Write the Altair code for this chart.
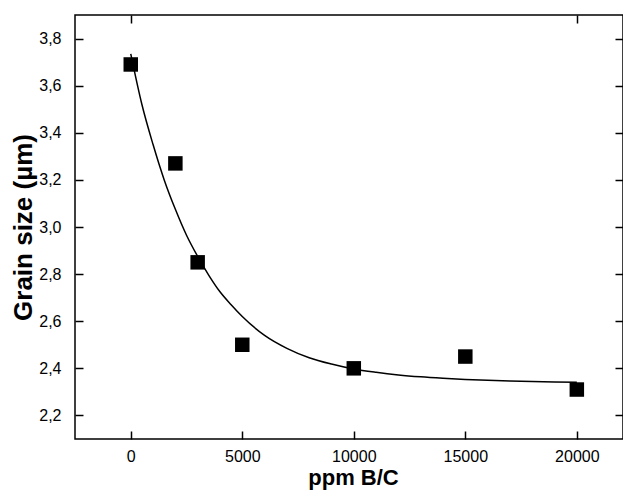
import altair as alt
import pandas as pd

# measured data (squares)
ppm = [0, 2000, 3000, 5000, 10000, 15000, 20000]
grain = [3.69, 3.27, 2.85, 2.50, 2.40, 2.45, 2.31]

# fitted curve
fit_x = [0, 500, 1000, 1500, 2000, 2500, 3000, 3500, 4000, 4500, 5000, 6000, 7000,
         8000, 9000, 10000, 11000, 12000, 13000, 14000, 15000, 16000, 17000, 18000,
         19000, 20000]
fit_y = [3.735, 3.52, 3.35, 3.20, 3.075, 2.965, 2.875, 2.795, 2.725, 2.67, 2.62, 2.54,
         2.485, 2.445, 2.418, 2.397, 2.383, 2.372, 2.364, 2.358, 2.353, 2.349, 2.346,
         2.344, 2.342, 2.341]

x_ticks = [0, 5000, 10000, 15000, 20000]
x_top_ticks = [0, 20000]
y_ticks = [2.2, 2.4, 2.6, 2.8, 3.0, 3.2, 3.4, 3.6, 3.8]

pts = pd.DataFrame({"ppm": ppm, "grain": grain})
fit = pd.DataFrame({"ppm": fit_x, "grain": fit_y})

W, H = 548, 424
FONT = "Liberation Sans"

xs = alt.Scale(domain=[-2500, 22070], nice=False, zero=False)
ys = alt.Scale(domain=[2.1, 3.9], nice=False, zero=False)


def tick_axis(orient, values):
    return alt.Axis(orient=orient, values=values, offset=-8, tickSize=8,
                    tickWidth=1.5, tickColor="black", labels=False,
                    domain=False, grid=False, title=None)


line = alt.Chart(fit).mark_line(color="black", strokeWidth=1.5, interpolate="monotone").encode(
    x=alt.X("ppm:Q", scale=xs, axis=alt.Axis(
        orient="bottom", values=x_ticks, format="d", tickSize=0, ticks=False,
        domain=False, grid=False, labelPadding=9, labelFont=FONT, labelFontSize=16,
        labelColor="black", title="ppm B/C", titleFont=FONT, titleFontSize=22,
        titleFontWeight="bold", titleColor="black", titleX=278, titleY=45,
        titleAlign="center", titleBaseline="alphabetic")),
    y=alt.Y("grain:Q", scale=ys, axis=alt.Axis(
        orient="left", values=y_ticks, tickSize=0, ticks=False, domain=False, grid=False,
        labelExpr="replace(format(datum.value, '.1f'), '.', ',')",
        labelPadding=14, labelFont=FONT, labelFontSize=16, labelColor="black",
        title="Grain size (µm)", titleFont=FONT, titleFontSize=26,
        titleFontWeight="bold", titleColor="black", titleAngle=270,
        titleX=-44, titleY=H / 2, titleAlign="center", titleBaseline="alphabetic")),
)

squares = alt.Chart(pts).mark_point(shape="square", filled=True, color="black",
                                    size=210, opacity=1).encode(
    x=alt.X("ppm:Q", scale=xs, axis=tick_axis("bottom", x_ticks)),
    y=alt.Y("grain:Q", scale=ys, axis=tick_axis("left", y_ticks)),
)

ghost = alt.Chart(pts).mark_point(opacity=0).encode(
    x=alt.X("ppm:Q", scale=xs, axis=tick_axis("top", x_top_ticks)),
    y=alt.Y("grain:Q", scale=ys, axis=tick_axis("right", y_ticks)),
)

chart = alt.layer(line, squares, ghost).resolve_axis(
    x="independent", y="independent"
).properties(
    width=W, height=H,
    autosize=alt.AutoSizeParams(type="none"),
    padding={"left": 67, "top": 7, "right": 0, "bottom": 51},
).configure_view(stroke="black", strokeWidth=1.5)

chart.save("out.html", embed_options={"renderer": "svg", "actions": False})
